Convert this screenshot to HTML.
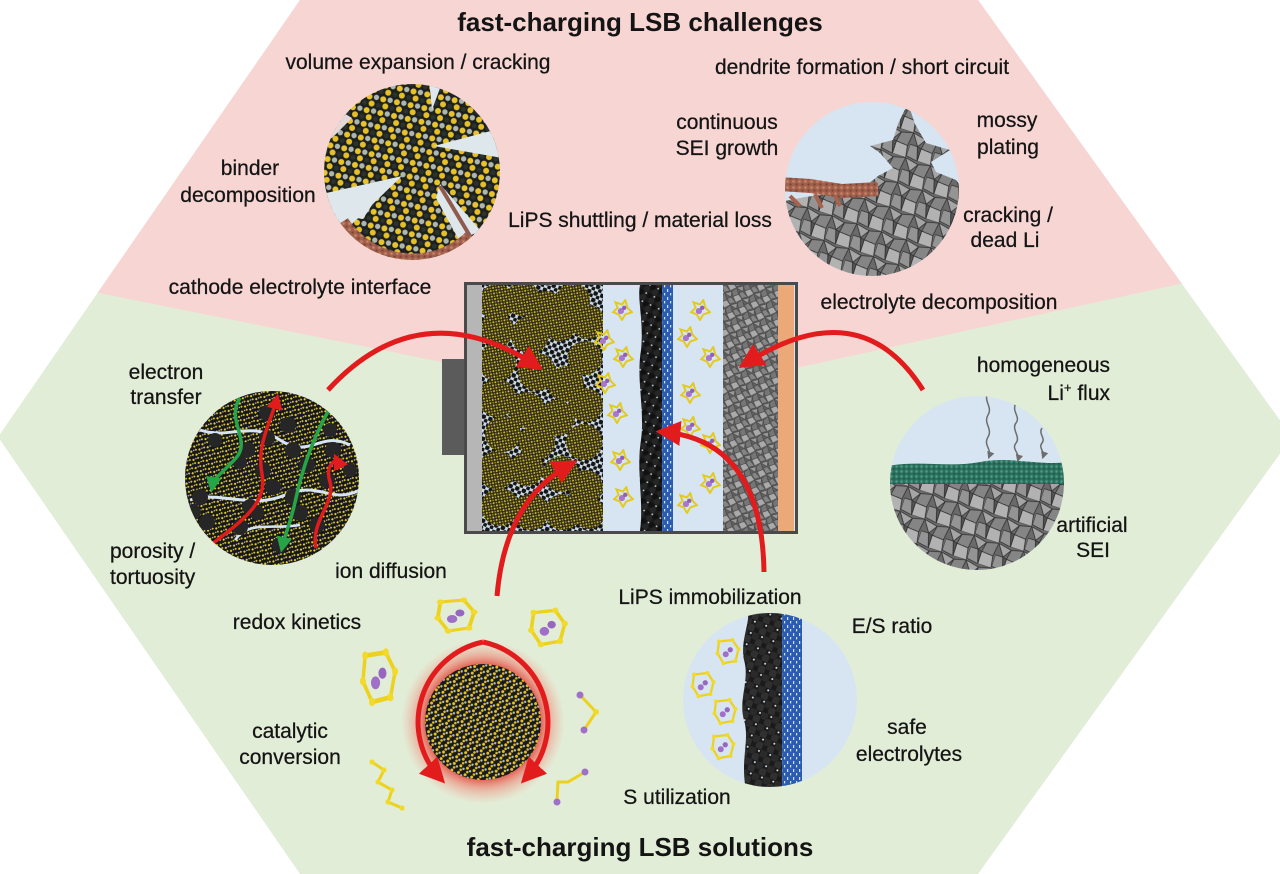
<!DOCTYPE html>
<html><head><meta charset="utf-8">
<style>
html,body{margin:0;padding:0;background:#fff;}
svg{display:block;}
text{font-family:"Liberation Sans",Arial,sans-serif;fill:#141414;}
.l{font-size:21px;stroke:#141414;stroke-width:0.25px;}
.t{font-size:26px;font-weight:bold;}
</style></head><body>
<svg width="1280" height="874" viewBox="0 0 1280 874" xmlns="http://www.w3.org/2000/svg">
<defs>
 <clipPath id="hex"><polygon points="300,0 978,0 1292,437 978,874 300,874 -2,437"/></clipPath>
 <clipPath id="bat"><rect x="482" y="285" width="121" height="246"/></clipPath>
 <clipPath id="cA"><circle cx="412" cy="172" r="88"/></clipPath>
 <clipPath id="cB"><circle cx="872" cy="189" r="87"/></clipPath>
 <clipPath id="cC"><circle cx="272" cy="478" r="87"/></clipPath>
 <clipPath id="cD"><circle cx="977" cy="483" r="87"/></clipPath>
 <clipPath id="cE"><circle cx="483" cy="722" r="58"/></clipPath>
 <clipPath id="cF"><circle cx="770" cy="700" r="87"/></clipPath>

 <pattern id="pA" width="14" height="14" patternUnits="userSpaceOnUse" patternTransform="rotate(12)">
  <rect width="14" height="14" fill="#1c211f"/>
  <circle cx="3.5" cy="3.5" r="3" fill="#e9c32c"/>
  <circle cx="10.5" cy="3" r="2.7" fill="#aeb6b1"/>
  <circle cx="7" cy="10" r="3" fill="#e6bf28"/>
  <circle cx="0" cy="10.5" r="2.4" fill="#2c322e"/>
  <circle cx="14" cy="10.5" r="2.4" fill="#2c322e"/>
 </pattern>
 <pattern id="pE" width="7" height="7" patternUnits="userSpaceOnUse" patternTransform="rotate(20)">
  <rect width="7" height="7" fill="#181b1a"/>
  <circle cx="2" cy="2" r="1.5" fill="#e8c22a"/>
  <circle cx="5.5" cy="4" r="1.2" fill="#b4bcbc"/>
  <circle cx="3.2" cy="5.8" r="1.3" fill="#e2bb26"/>
 </pattern>
 <pattern id="pC" width="6" height="6" patternUnits="userSpaceOnUse" patternTransform="rotate(30)">
  <rect width="6" height="6" fill="#171717"/>
  <circle cx="1.5" cy="1.5" r="1.1" fill="#e6cf30"/>
  <circle cx="4.5" cy="3.5" r="1" fill="#e0c82c"/>
  <circle cx="3" cy="5.2" r="0.7" fill="#c8d0d0"/>
 </pattern>
 <pattern id="pOl" width="4" height="4" patternUnits="userSpaceOnUse" patternTransform="rotate(35)">
  <rect width="4" height="4" fill="#2f2b14"/>
  <circle cx="1" cy="1" r="0.95" fill="#d8c43a"/>
  <circle cx="3" cy="3" r="0.8" fill="#b8a530"/>
 </pattern>
 <pattern id="pCarb" width="9" height="9" patternUnits="userSpaceOnUse" patternTransform="rotate(25)">
  <rect width="9" height="9" fill="#1b1b1b"/>
  <circle cx="2" cy="2" r="3.2" fill="#111"/>
  <circle cx="6.5" cy="6.5" r="3.2" fill="#262626"/>
  <circle cx="7.5" cy="1.5" r="0.9" fill="#c8d8e6"/>
 </pattern>
 <pattern id="pCarbB" width="12" height="12" patternUnits="userSpaceOnUse" patternTransform="rotate(20)">
  <rect width="12" height="12" fill="#1a1a1a"/>
  <circle cx="3" cy="3" r="4.2" fill="#2a2a2a"/>
  <circle cx="9" cy="9" r="4.2" fill="#303030"/>
  <circle cx="10" cy="2" r="1" fill="#d6e5f1"/>
 </pattern>
 <pattern id="pDots" width="7" height="7" patternUnits="userSpaceOnUse" patternTransform="rotate(20)">
  <rect width="7" height="7" fill="#cddbe6"/>
  <circle cx="2" cy="2" r="2.4" fill="#151515"/>
  <circle cx="5.5" cy="5.5" r="2.1" fill="#151515"/>
 </pattern>
 <pattern id="pSep" width="6" height="8" patternUnits="userSpaceOnUse">
  <rect width="6" height="8" fill="#2c5cb0"/>
  <rect x="1" y="1" width="1.2" height="3" fill="#cfe0f5"/>
  <rect x="4" y="5" width="1.2" height="2.4" fill="#cfe0f5"/>
 </pattern>
 <pattern id="pSh" width="26" height="26" patternUnits="userSpaceOnUse" patternTransform="rotate(18)">
  <rect width="26" height="26" fill="#6a6a6a"/>
  <polygon points="0,0 14,3 8,12" fill="#a5a5a5" stroke="#2f2f2f" stroke-width=".8"/>
  <polygon points="14,3 26,0 24,14 12,13" fill="#858585" stroke="#2f2f2f" stroke-width=".8"/>
  <polygon points="0,12 8,12 12,26 0,24" fill="#949494" stroke="#2f2f2f" stroke-width=".8"/>
  <polygon points="12,13 24,14 26,26 12,26" fill="#b2b2b2" stroke="#2f2f2f" stroke-width=".8"/>
  <polygon points="8,12 12,13 12,26" fill="#555" stroke="#2f2f2f" stroke-width=".8"/>
 </pattern>
 <pattern id="pShS" width="13" height="13" patternUnits="userSpaceOnUse" patternTransform="rotate(-25)">
  <rect width="13" height="13" fill="#5f5f5f"/>
  <polygon points="0,0 7,1.5 4,6" fill="#9a9a9a" stroke="#3a3a3a" stroke-width=".5"/>
  <polygon points="7,1.5 13,0 12,7 6,6.5" fill="#767676" stroke="#3a3a3a" stroke-width=".5"/>
  <polygon points="0,6 4,6 6,13 0,12" fill="#858585" stroke="#3a3a3a" stroke-width=".5"/>
  <polygon points="6,6.5 12,7 13,13 6,13" fill="#aaaaaa" stroke="#3a3a3a" stroke-width=".5"/>
 </pattern>
 <pattern id="pG" width="5" height="5" patternUnits="userSpaceOnUse">
  <rect width="5" height="5" fill="#2b705e"/>
  <circle cx="1.5" cy="1.5" r="1.2" fill="#4f9f86"/>
  <circle cx="4" cy="3.8" r="1" fill="#1e5a4a"/>
 </pattern>
 <pattern id="pBr" width="6" height="6" patternUnits="userSpaceOnUse">
  <rect width="6" height="6" fill="#a0604c"/>
  <circle cx="1.5" cy="1.5" r="1.3" fill="#c98468"/>
  <circle cx="4.5" cy="4.5" r="1.1" fill="#7a4334"/>
 </pattern>

 <radialGradient id="glow">
  <stop offset="0.66" stop-color="#e02a22" stop-opacity="0.9"/>
  <stop offset="0.82" stop-color="#ef7a6a" stop-opacity="0.5"/>
  <stop offset="1" stop-color="#f4a090" stop-opacity="0"/>
 </radialGradient>

 <marker id="ra" viewBox="0 0 10 10" refX="7" refY="5" markerWidth="5" markerHeight="5" orient="auto"><path d="M0,0 L10,5 L0,10 z" fill="#e21b1c"/></marker>
 <marker id="ga" viewBox="0 0 10 10" refX="7" refY="5" markerWidth="4.5" markerHeight="4.5" orient="auto"><path d="M0,0 L10,5 L0,10 z" fill="#25a548"/></marker>
 <marker id="rs" viewBox="0 0 10 10" refX="7" refY="5" markerWidth="4.5" markerHeight="4.5" orient="auto"><path d="M0,0 L10,5 L0,10 z" fill="#e21b1c"/></marker>
 <marker id="ya" viewBox="0 0 10 10" refX="7" refY="5" markerWidth="5" markerHeight="5" orient="auto"><path d="M0,0 L10,5 L0,10 z" fill="#6d6d6d"/></marker>

 <symbol id="lp" viewBox="-10 -10 20 20">
  <polygon points="-6,-7 0,-5 3,-9 5,-2 9,2 3,4 0,9 -3,4 -8,2 -4,-2" fill="none" stroke="#e3ca1d" stroke-width="1.8"/>
  <circle cx="-1" cy="1" r="2.8" fill="#a877cc"/>
  <circle cx="2" cy="-2" r="2" fill="#9060b8"/>
 </symbol>
 <symbol id="lb" viewBox="-20 -20 40 40" preserveAspectRatio="none">
  <polygon points="-12,-14 6,-16 14,-4 10,12 -6,15 -14,2" fill="none" stroke="#ecd21e" stroke-width="3"/>
  <g fill="#f2da2a"><circle cx="-12" cy="-14" r="2.6"/><circle cx="6" cy="-16" r="2.6"/><circle cx="14" cy="-4" r="2.6"/><circle cx="10" cy="12" r="2.6"/><circle cx="-6" cy="15" r="2.6"/><circle cx="-14" cy="2" r="2.6"/></g>
  <circle cx="-3" cy="3" r="4" fill="#a070c8"/>
  <circle cx="3" cy="-3" r="3.5" fill="#9866c0"/>
 </symbol>
</defs>

<rect width="1280" height="874" fill="#fff"/>
<polygon points="300,0 978,0 1292,437 978,874 300,874 -2,437" fill="#e2edd7"/>
<polygon clip-path="url(#hex)" points="0,0 1280,0 1280,262 640,402 0,273" fill="#f6d5d3"/>

<!-- Circle A: cracked particle -->
<g clip-path="url(#cA)">
 <rect x="320" y="80" width="190" height="190" fill="url(#pA)"/>
 <polygon points="322,194 402,176 352,224 322,222" fill="#dde7ec"/>
 <polygon points="502,128 434,146 502,158" fill="#dde7ec"/>
 <polygon points="429,80 432,110 443,80" fill="#dde7ec"/>
 <polygon points="440,184 480,230 460,242 436,198" fill="#dde7ec"/>
 <polygon points="381,191 343,216 363,219" fill="#dde7ec"/>
 <polygon points="322,100 352,118 332,138 322,140" fill="#e6d7d8"/>
 <path d="M342,222 A84,84 0 0 0 472,236" fill="none" stroke="url(#pBr)" stroke-width="14"/>
 <path d="M440,186 L470,236" fill="none" stroke="#8e5b4e" stroke-width="4"/>
</g>

<!-- Circle B: dendrite -->
<g clip-path="url(#cB)">
 <rect x="780" y="100" width="180" height="180" fill="#d6e5f1"/>
 <polygon points="780,202 805,197 835,193 862,189 878,176 893,168 880,153 870,146 893,140 898,124 908,103 915,124 926,143 950,150 931,162 936,172 956,180 964,190 964,285 780,285" fill="url(#pSh)"/>
 <path d="M780,184 L810,186 L842,191 L878,189" fill="none" stroke="url(#pBr)" stroke-width="14"/>
 <path d="M790,196 L800,206 M815,194 L822,208 M835,196 L840,206" stroke="#a8634e" stroke-width="4"/>
</g>

<!-- Circle C: electron transfer -->
<g clip-path="url(#cC)">
 <rect x="180" y="385" width="185" height="185" fill="url(#pC)"/>
 <path d="M200,430 C230,440 250,420 280,440 S320,430 350,445" fill="none" stroke="#d6e5f1" stroke-width="3"/>
 <path d="M190,500 C220,490 250,510 285,495 S330,505 360,490" fill="none" stroke="#d6e5f1" stroke-width="3"/>
 <path d="M235,540 C250,520 270,530 300,525" fill="none" stroke="#d6e5f1" stroke-width="2.5"/>
 <g fill="#262626">
  <circle cx="267" cy="413" r="8"/><circle cx="288" cy="425" r="8"/><circle cx="267" cy="438" r="8"/>
  <circle cx="247" cy="450" r="8"/><circle cx="293" cy="450" r="8"/><circle cx="240" cy="462" r="7"/>
  <circle cx="307" cy="465" r="8"/><circle cx="263" cy="470" r="8"/><circle cx="273" cy="487" r="8"/>
  <circle cx="293" cy="497" r="8"/><circle cx="250" cy="507" r="8"/><circle cx="333" cy="450" r="8"/>
  <circle cx="327" cy="480" r="8"/><circle cx="200" cy="497" r="8"/><circle cx="193" cy="512" r="8"/>
  <circle cx="207" cy="522" r="8"/><circle cx="240" cy="527" r="8"/><circle cx="257" cy="513" r="7"/>
  <circle cx="300" cy="513" r="8"/><circle cx="317" cy="525" r="8"/><circle cx="350" cy="470" r="7"/>
  <circle cx="215" cy="440" r="7"/><circle cx="330" cy="430" r="7"/><circle cx="280" cy="545" r="8"/>
 </g>
 <path d="M240,398 C225,420 252,440 236,458 S214,476 212,488" fill="none" stroke="#25a548" stroke-width="3.5" marker-end="url(#ga)"/>
 <path d="M330,408 C312,440 302,470 296,498 S286,530 282,548" fill="none" stroke="#25a548" stroke-width="3.5" marker-end="url(#ga)"/>
 <path d="M212,544 C240,522 268,504 262,474 S272,420 277,398" fill="none" stroke="#e21b1c" stroke-width="3.5" marker-end="url(#rs)"/>
 <path d="M316,548 C310,522 336,502 330,482 S338,462 336,458" fill="none" stroke="#e21b1c" stroke-width="3.5" marker-end="url(#rs)"/>
</g>

<!-- Circle D: artificial SEI -->
<g clip-path="url(#cD)">
 <rect x="888" y="394" width="180" height="180" fill="#d6e5f1"/>
 <path d="M888,466 C920,460 950,468 980,462 S1040,466 1068,462 L1068,486 L888,486 Z" fill="url(#pG)"/>
 <rect x="888" y="484" width="180" height="90" fill="url(#pSh)"/>
 <path d="M988,393 c-5,8 5,14 0,22 s5,14 0,22 s4,12 1,20" fill="none" stroke="#6d6d6d" stroke-width="1.5" marker-end="url(#ya)"/>
 <path d="M1016,403 c-5,8 5,14 0,20 s5,14 0,20 s4,10 2,17" fill="none" stroke="#6d6d6d" stroke-width="1.5" marker-end="url(#ya)"/>
 <path d="M1042,428 c-4,6 4,10 0,15 s3,8 1,14" fill="none" stroke="#6d6d6d" stroke-width="1.5" marker-end="url(#ya)"/>
</g>

<!-- Battery -->
<rect x="442" y="359" width="24" height="96" fill="#5b5b5b"/>
<rect x="466" y="284" width="330" height="248" fill="#d6e5f1"/>
<rect x="467" y="285" width="15" height="246" fill="#b6b6b6"/>
<rect x="482" y="285" width="121" height="246" fill="url(#pDots)"/>
<g fill="url(#pOl)" clip-path="url(#bat)">
 <circle cx="497" cy="302" r="18"/><circle cx="523" cy="299" r="17"/><circle cx="546" cy="310" r="19"/>
 <circle cx="573" cy="300" r="17"/><circle cx="588" cy="322" r="17"/><circle cx="497" cy="330" r="17"/>
 <circle cx="530" cy="335" r="19"/><circle cx="560" cy="324" r="17"/><circle cx="497" cy="362" r="19"/>
 <circle cx="537" cy="372" r="19"/><circle cx="566" cy="384" r="18"/><circle cx="585" cy="358" r="17"/>
 <circle cx="497" cy="398" r="19"/><circle cx="527" cy="410" r="18"/><circle cx="586" cy="405" r="17"/>
 <circle cx="557" cy="418" r="18"/><circle cx="503" cy="434" r="18"/><circle cx="537" cy="442" r="18"/>
 <circle cx="584" cy="442" r="18"/><circle cx="497" cy="470" r="19"/><circle cx="527" cy="469" r="17"/>
 <circle cx="561" cy="474" r="18"/><circle cx="586" cy="487" r="17"/><circle cx="500" cy="507" r="19"/>
 <circle cx="531" cy="512" r="18"/><circle cx="563" cy="512" r="18"/><circle cx="589" cy="513" r="16"/>
</g>
<path d="M640,285 L662,285 L662,531 L640,531 C644,500 636,470 641,440 C645,410 636,380 641,350 C644,320 637,300 640,285 Z" fill="url(#pCarb)"/>
<rect x="662" y="285" width="11" height="246" fill="url(#pSep)"/>
<rect x="723" y="285" width="55" height="246" fill="url(#pShS)"/>
<rect x="778" y="285" width="16" height="246" fill="#eba878"/>
<g>
 <use href="#lp" x="611" y="299" width="22" height="22"/>
 <use href="#lp" x="593" y="329" width="22" height="22"/>
 <use href="#lp" x="612" y="346" width="22" height="22"/>
 <use href="#lp" x="594" y="372" width="22" height="22"/>
 <use href="#lp" x="606" y="402" width="22" height="22"/>
 <use href="#lp" x="609" y="449" width="22" height="22"/>
 <use href="#lp" x="612" y="486" width="22" height="22"/>
 <use href="#lp" x="689" y="299" width="22" height="22"/>
 <use href="#lp" x="676" y="326" width="22" height="22"/>
 <use href="#lp" x="699" y="346" width="22" height="22"/>
 <use href="#lp" x="679" y="382" width="22" height="22"/>
 <use href="#lp" x="679" y="416" width="22" height="22"/>
 <use href="#lp" x="699" y="432" width="22" height="22"/>
 <use href="#lp" x="699" y="472" width="22" height="22"/>
 <use href="#lp" x="676" y="492" width="22" height="22"/>
</g>
<rect x="465.5" y="283.5" width="331" height="249" fill="none" stroke="#4a4a4a" stroke-width="3"/>

<!-- Circle F: E/S -->
<g clip-path="url(#cF)">
 <rect x="680" y="610" width="180" height="180" fill="#d6e5f1"/>
 <path d="M748,610 L782,610 L782,790 L746,790 C740,760 750,740 744,720 C738,700 750,680 744,660 C740,640 750,625 748,610 Z" fill="url(#pCarbB)"/>
 <rect x="782" y="610" width="20" height="180" fill="url(#pSep)"/>
 <use href="#lb" x="713" y="637" width="30" height="30"/>
 <use href="#lb" x="688" y="670" width="30" height="30"/>
 <use href="#lb" x="710" y="697" width="30" height="30"/>
 <use href="#lb" x="708" y="732" width="30" height="30"/>
</g>

<!-- Sphere E with glow -->
<circle cx="483" cy="722" r="82" fill="url(#glow)"/>
<g clip-path="url(#cE)"><rect x="420" y="660" width="130" height="130" fill="url(#pE)"/></g>
<path d="M483,642 A82,82 0 0 0 440,778" fill="none" stroke="#e21b1c" stroke-width="5" marker-end="url(#ra)"/>
<path d="M483,642 A82,82 0 0 1 526,778" fill="none" stroke="#e21b1c" stroke-width="5" marker-end="url(#ra)"/>

<!-- molecules around sphere -->
<use href="#lb" x="430" y="596" width="52" height="40"/>
<use href="#lb" x="524" y="606" width="48" height="44"/>
<use href="#lb" x="356" y="646" width="46" height="64"/>
<g>
 <polyline points="580,695 596,712 584,730" fill="none" stroke="#ecd21e" stroke-width="3"/>
 <circle cx="580" cy="695" r="3.5" fill="#a070c8"/><circle cx="584" cy="730" r="3.5" fill="#a070c8"/><circle cx="596" cy="712" r="3" fill="#f2da2a"/>
 <polyline points="372,762 384,770 378,782 392,790 388,802 402,808" fill="none" stroke="#ecd21e" stroke-width="3"/>
 <g fill="#f2da2a"><circle cx="372" cy="762" r="2.6"/><circle cx="384" cy="770" r="2.6"/><circle cx="378" cy="782" r="2.6"/><circle cx="392" cy="790" r="2.6"/><circle cx="388" cy="802" r="2.6"/><circle cx="402" cy="808" r="2.6"/></g>
 <polyline points="585,772 568,782 558,782 557,800" fill="none" stroke="#ecd21e" stroke-width="3"/>
 <circle cx="585" cy="772" r="3.5" fill="#a070c8"/><circle cx="557" cy="802" r="3.5" fill="#a070c8"/>
</g>

<!-- Big red arrows -->
<path d="M328,390 Q420,290 537,366" fill="none" stroke="#e21b1c" stroke-width="5" marker-end="url(#ra)"/>
<path d="M923,390 Q860,290 745,364" fill="none" stroke="#e21b1c" stroke-width="5" marker-end="url(#ra)"/>
<path d="M497,596 Q505,500 571,464" fill="none" stroke="#e21b1c" stroke-width="5" marker-end="url(#ra)"/>
<path d="M764,572 Q762,440 663,432" fill="none" stroke="#e21b1c" stroke-width="5" marker-end="url(#ra)"/>

<!-- Titles -->
<text class="t" x="640" y="31" text-anchor="middle">fast-charging LSB challenges</text>
<text class="t" x="640" y="856" text-anchor="middle">fast-charging LSB solutions</text>

<!-- Labels -->
<text class="l" x="418" y="69" text-anchor="middle">volume expansion / cracking</text>
<text class="l" x="862" y="74" text-anchor="middle">dendrite formation / short circuit</text>
<text class="l" x="727" y="129" text-anchor="middle">continuous</text>
<text class="l" x="727" y="155" text-anchor="middle">SEI growth</text>
<text class="l" x="1007" y="127" text-anchor="middle">mossy</text>
<text class="l" x="1008" y="154" text-anchor="middle">plating</text>
<text class="l" x="250" y="175" text-anchor="middle">binder</text>
<text class="l" x="248" y="202" text-anchor="middle">decomposition</text>
<text class="l" x="640" y="227" text-anchor="middle">LiPS shuttling / material loss</text>
<text class="l" x="1008" y="222" text-anchor="middle">cracking /</text>
<text class="l" x="1005" y="247" text-anchor="middle">dead Li</text>
<text class="l" x="300" y="294" text-anchor="middle">cathode electrolyte interface</text>
<text class="l" x="939" y="309" text-anchor="middle">electrolyte decomposition</text>
<text class="l" x="166" y="379" text-anchor="middle">electron</text>
<text class="l" x="166" y="404" text-anchor="middle">transfer</text>
<text class="l" x="1110" y="372" text-anchor="end">homogeneous</text>
<text class="l" x="1110" y="400" text-anchor="end">Li<tspan dy="-8" font-size="13">+</tspan><tspan dy="8"> flux</tspan></text>
<text class="l" x="110" y="558">porosity /</text>
<text class="l" x="110" y="584">tortuosity</text>
<text class="l" x="391" y="578" text-anchor="middle">ion diffusion</text>
<text class="l" x="1092" y="532" text-anchor="middle">artificial</text>
<text class="l" x="1093" y="557" text-anchor="middle">SEI</text>
<text class="l" x="710" y="604" text-anchor="middle">LiPS immobilization</text>
<text class="l" x="297" y="629" text-anchor="middle">redox kinetics</text>
<text class="l" x="892" y="633" text-anchor="middle">E/S ratio</text>
<text class="l" x="290" y="738" text-anchor="middle">catalytic</text>
<text class="l" x="290" y="764" text-anchor="middle">conversion</text>
<text class="l" x="907" y="734" text-anchor="middle">safe</text>
<text class="l" x="909" y="761" text-anchor="middle">electrolytes</text>
<text class="l" x="677" y="804" text-anchor="middle">S utilization</text>
</svg>
</body></html>
